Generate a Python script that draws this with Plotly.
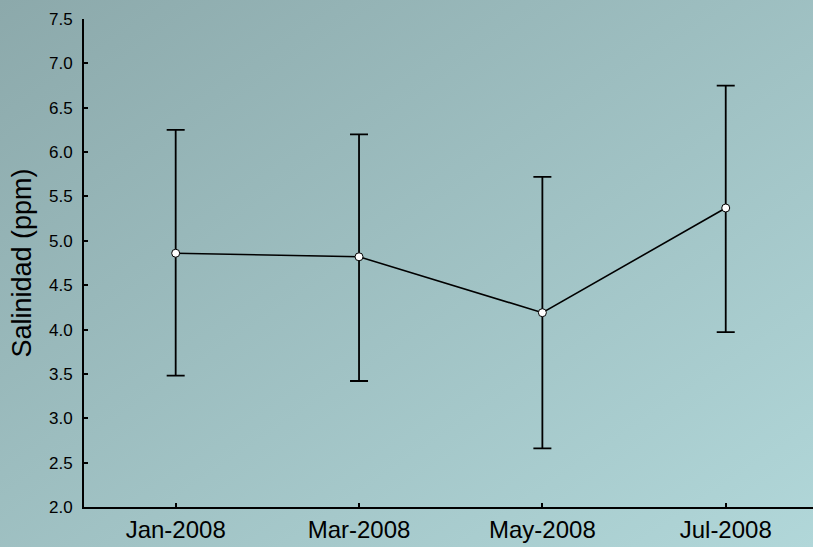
import base64
import plotly.graph_objects as go

# Monthly mean salinity with upper/lower bounds
months = ["Jan-2008", "Mar-2008", "May-2008", "Jul-2008"]
mean_ppm = [4.86, 4.82, 4.19, 5.37]
upper_ppm = [6.25, 6.20, 5.72, 6.75]
lower_ppm = [3.48, 3.42, 2.66, 3.97]

y_ticks = [2.0, 2.5, 3.0, 3.5, 4.0, 4.5, 5.0, 5.5, 6.0, 6.5, 7.0, 7.5]

W, H = 813, 547
M_L, M_R, M_T, M_B = 84, 0, 19, 40
plot_w = W - M_L - M_R
plot_h = H - M_T - M_B

x_pos = list(range(len(months)))
err_plus = [u - m for u, m in zip(upper_ppm, mean_ppm)]
err_minus = [m - l for m, l in zip(mean_ppm, lower_ppm)]

# diagonal gradient backdrop
svg = (
    '<svg xmlns="http://www.w3.org/2000/svg" width="813" height="547" '
    'preserveAspectRatio="none" viewBox="0 0 813 547">'
    '<defs><linearGradient id="g" x1="0" y1="0" x2="1" y2="1">'
    '<stop offset="0" stop-color="#8ca9ab"/>'
    '<stop offset="1" stop-color="#b1d7d9"/>'
    '</linearGradient></defs>'
    '<rect width="813" height="547" fill="url(#g)"/></svg>'
)
bg_src = "data:image/svg+xml;base64," + base64.b64encode(svg.encode()).decode()

fig = go.Figure()
fig.add_trace(go.Scatter(
    x=x_pos,
    y=mean_ppm,
    mode="lines+markers",
    line=dict(color="black", width=1.6),
    marker=dict(symbol="circle", size=8, color="white",
                line=dict(color="black", width=1)),
    error_y=dict(type="data", symmetric=False, array=err_plus,
                 arrayminus=err_minus, color="black", thickness=1.8, width=9),
    showlegend=False,
    cliponaxis=False,
))

fig.add_layout_image(dict(
    source=bg_src, xref="paper", yref="paper",
    x=-M_L / plot_w, y=1 + M_T / plot_h,
    sizex=W / plot_w, sizey=H / plot_h,
    sizing="stretch", layer="below", xanchor="left", yanchor="top",
))

fig.update_layout(
    width=W, height=H,
    margin=dict(l=M_L, r=M_R, t=M_T, b=M_B, pad=0),
    paper_bgcolor="#9dbcbe",
    plot_bgcolor="rgba(0,0,0,0)",
    font=dict(family="Liberation Sans, Arial, sans-serif", color="black"),
    xaxis=dict(
        range=[-0.5, 3.476],
        tickmode="array", tickvals=x_pos, ticktext=months,
        ticks="inside", ticklen=4, tickwidth=1.5, tickcolor="black",
        showline=True, linecolor="black", linewidth=2,
        showgrid=False, zeroline=False,
        tickfont=dict(size=24),
    ),
    yaxis=dict(
        range=[2.0, 7.5],
        tickmode="array", tickvals=y_ticks,
        ticktext=[f"{v:.1f}" for v in y_ticks],
        ticks="inside", ticklen=4, tickwidth=1.5, tickcolor="black",
        showline=True, linecolor="black", linewidth=2,
        showgrid=False, zeroline=False,
        tickfont=dict(size=17),
        ticklabelstandoff=6,
        title=dict(text="Salinidad (ppm)", font=dict(size=27), standoff=10),
    ),
)

fig.write_html("out.html")
